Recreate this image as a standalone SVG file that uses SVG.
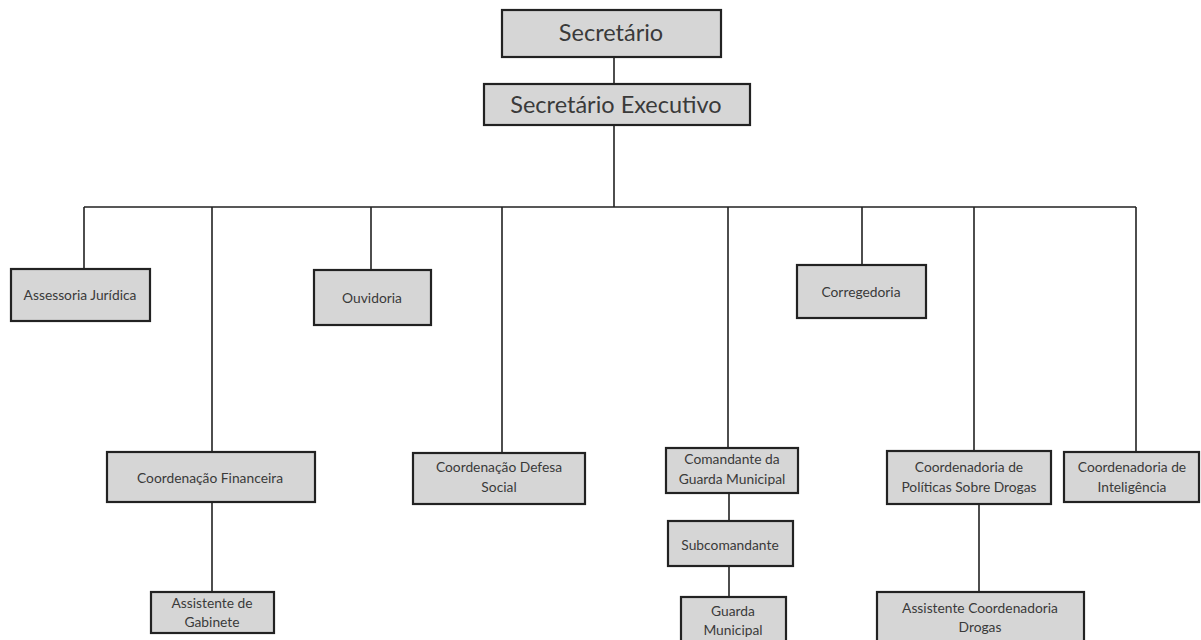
<svg xmlns="http://www.w3.org/2000/svg" width="1201" height="640" viewBox="0 0 1201 640">
<style>
.box{fill:#d6d6d6;stroke:#222;stroke-width:2.2}
.t{font-family:Lato,"Open Sans",sans-serif;fill:#3a3a3a;text-anchor:middle}
.big{font-size:23.5px}
.sm{font-size:13.8px}
.ln{stroke:#222;stroke-width:1.6;fill:none}
</style>
<rect width="1201" height="640" fill="#fff"/>
<g id="connectors">
<path class="ln" d="M614 57V84 M614 125V207 M84 207H1136 M84 207V269 M212 207V452 M371 207V270 M502 207V453 M728 207V448 M862 207V265 M974 207V451 M1136 207V452 M212 502V592 M729 493V521 M729 566V597 M979 504V592"/>
</g>
<g id="n-secretario"><rect class="box" x="502" y="10" width="219" height="47"/><text class="t big" x="611" y="41">Secretário</text></g>
<g id="n-executivo"><rect class="box" x="484" y="84" width="266" height="41"/><text class="t big" x="616" y="113">Secretário Executivo</text></g>
<g id="n-assessoria"><rect class="box" x="11" y="269" width="139" height="52"/><text class="t sm" x="80" y="300">Assessoria Jurídica</text></g>
<g id="n-ouvidoria"><rect class="box" x="314" y="270" width="117" height="55"/><text class="t sm" x="372" y="303">Ouvidoria</text></g>
<g id="n-corregedoria"><rect class="box" x="797" y="265" width="129" height="53"/><text class="t sm" x="861" y="297">Corregedoria</text></g>
<g id="n-financeira"><rect class="box" x="107" y="452" width="208" height="50"/><text class="t sm" x="210" y="483">Coordenação Financeira</text></g>
<g id="n-defesa"><rect class="box" x="413" y="453" width="172" height="51"/><text class="t sm" x="499" y="472">Coordenação Defesa</text><text class="t sm" x="499" y="492">Social</text></g>
<g id="n-comandante"><rect class="box" x="666" y="448" width="132" height="45"/><text class="t sm" x="732" y="464">Comandante da</text><text class="t sm" x="732" y="484">Guarda Municipal</text></g>
<g id="n-politicas"><rect class="box" x="887" y="451" width="164" height="53"/><text class="t sm" x="969" y="472">Coordenadoria de</text><text class="t sm" x="969" y="492">Políticas Sobre Drogas</text></g>
<g id="n-inteligencia"><rect class="box" x="1064" y="452" width="135" height="50"/><text class="t sm" x="1132" y="472">Coordenadoria de</text><text class="t sm" x="1132" y="492">Inteligência</text></g>
<g id="n-subcomandante"><rect class="box" x="668" y="521" width="125" height="45"/><text class="t sm" x="730" y="550">Subcomandante</text></g>
<g id="n-gabinete"><rect class="box" x="151" y="592" width="123" height="41"/><text class="t sm" x="212" y="608">Assistente de</text><text class="t sm" x="212" y="627">Gabinete</text></g>
<g id="n-guarda"><rect class="box" x="681" y="597" width="105" height="50"/><text class="t sm" x="733" y="616">Guarda</text><text class="t sm" x="733" y="635">Municipal</text></g>
<g id="n-assist-drogas"><rect class="box" x="877" y="592" width="207" height="55"/><text class="t sm" x="980" y="613">Assistente Coordenadoria</text><text class="t sm" x="980" y="632">Drogas</text></g>
</svg>
